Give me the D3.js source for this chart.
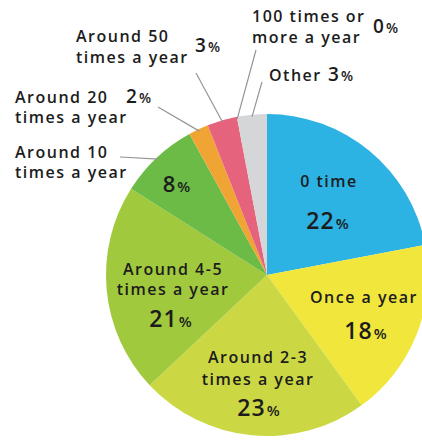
<!DOCTYPE html>
<html>
<head>
<meta charset="utf-8">
<script src="https://cdn.jsdelivr.net/npm/d3@7"></script>
<style>
  html, body { margin: 0; padding: 0; background: #fff; }
  svg { display: block; }
  text { font-family: "Open Sans", "Noto Sans", sans-serif; font-weight: 600; fill: #1c1c1c; }
</style>
</head>
<body>
<svg id="chart" width="422" height="441"></svg>
<script>
// Answers, clockwise from 12 o'clock
const categories = [
  "0 time", "Once a year", "Around 2-3 times a year", "Around 4-5 times a year",
  "Around 10 times a year", "Around 20 times a year", "Around 50 times a year",
  "100 times or more a year", "Other"
];
const shares = [22, 18, 23, 21, 8, 2, 3, 0, 3];
const sliceColors = ["#2cb2e3", "#f1e63c", "#cbd843", "#a0c93d", "#6cbb46", "#f0a433", "#e5637c", "#999999", "#d5d6d8"];

// Label lines per category (the value is appended as "NN%")
const labelLines = [
  ["0 time"], ["Once a year"], ["Around 2-3", "times a year"], ["Around 4-5", "times a year"],
  ["Around 10", "times a year"], ["Around 20", "times a year"], ["Around 50", "times a year"],
  ["100 times or", "more a year"], ["Other"]
];

const svg = d3.select("#chart");
const cx = 267, cy = 275, radius = 161;

const pie = d3.pie().value(d => d).sort(null).startAngle(0).endAngle(2 * Math.PI);
const arcs = pie(shares);
const arc = d3.arc().innerRadius(0).outerRadius(radius);

const g = svg.append("g").attr("transform", `translate(${cx},${cy})`);
g.selectAll("path.slice")
  .data(arcs)
  .join("path")
  .attr("class", "slice")
  .attr("d", arc)
  .attr("fill", (d, i) => sliceColors[i]);

// Layout for the text blocks
// inside: centred text; name lines then the value
const insideLayout = {
  0: { x: 329, lines: [187], value: [328, 229], big: 23, small: 15 },
  1: { x: 364, lines: [303], value: [366, 339], big: 23, small: 15 },
  2: { x: 258, lines: [363, 385], value: [259, 416], big: 23, small: 15 },
  3: { x: 173, lines: [275, 295], value: [171, 327], big: 23, small: 15 }
};
// outside: left-aligned name, value beside it, leader line to the slice edge
const outsideLayout = {
  4: { x: 15, lines: [158, 178], value: [177, 192, "middle"], big: 22, small: 15, lead: [120, 157] },
  5: { x: 15, lines: [103, 123], value: [126, 103, "start"], big: 19, small: 14, lead: [158, 107] },
  6: { x: 76, lines: [42, 63], value: [195, 52, "start"], big: 19, small: 14, lead: [196, 73] },
  7: { x: 252, lines: [22, 43], value: [373, 33, "start"], big: 19, small: 14, lead: [256, 50] },
  8: { x: 269, lines: [81], value: [328, 81, "start"], big: 19, small: 14, lead: [262, 82] }
};

function valueText(sel, v, big, small) {
  sel.append("tspan").attr("font-size", big).text(v);
  sel.append("tspan").attr("font-size", small).attr("dx", 1).text("%");
}

// leader lines from the slice edge to the label
Object.entries(outsideLayout).forEach(([k, L]) => {
  const a = arcs[+k];
  const mid = (a.startAngle + a.endAngle) / 2;
  const px = cx + (radius - 2) * Math.sin(mid);
  const py = cy - (radius - 2) * Math.cos(mid);
  svg.append("line")
    .attr("x1", L.lead[0]).attr("y1", L.lead[1])
    .attr("x2", px).attr("y2", py)
    .attr("stroke", "#959595").attr("stroke-width", 1.2);
});

Object.entries(insideLayout).forEach(([k, L]) => {
  const i = +k;
  labelLines[i].forEach((t, j) => {
    svg.append("text").attr("x", L.x).attr("y", L.lines[j])
      .attr("text-anchor", "middle").attr("font-size", 16)
      .attr("letter-spacing", 1.5).text(t);
  });
  const vt = svg.append("text").attr("x", L.value[0]).attr("y", L.value[1])
    .attr("text-anchor", "middle").attr("letter-spacing", 1);
  valueText(vt, shares[i], L.big, L.small);
});

Object.entries(outsideLayout).forEach(([k, L]) => {
  const i = +k;
  labelLines[i].forEach((t, j) => {
    svg.append("text").attr("x", L.x).attr("y", L.lines[j])
      .attr("font-size", 16).attr("letter-spacing", 1.5).text(t);
  });
  const vt = svg.append("text").attr("x", L.value[0]).attr("y", L.value[1])
    .attr("text-anchor", L.value[2]).attr("letter-spacing", 1);
  valueText(vt, shares[i], L.big, L.small);
});
</script>
</body>
</html>
